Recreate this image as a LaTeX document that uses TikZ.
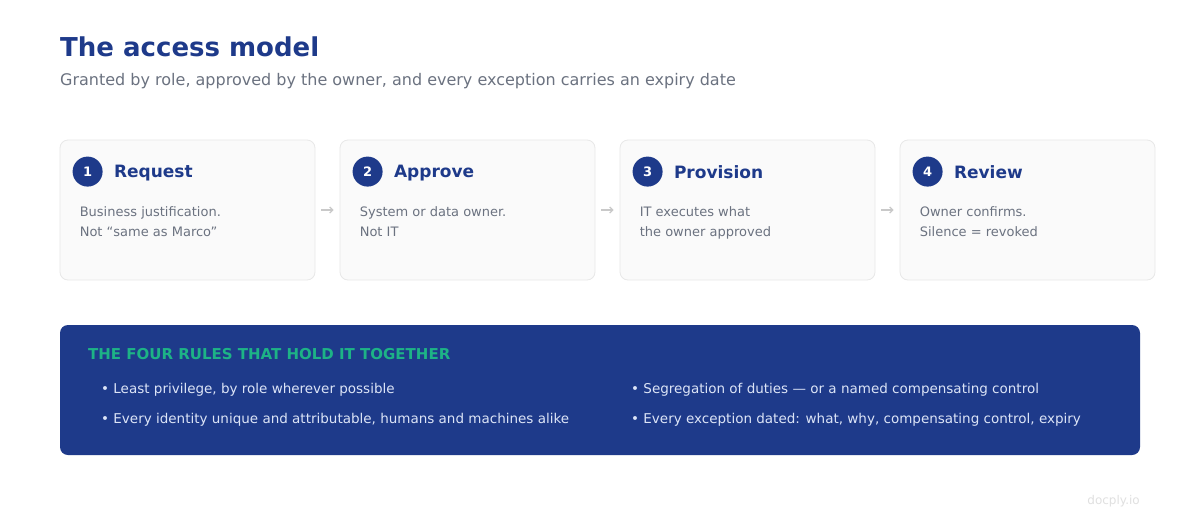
\documentclass[tikz,border=0pt]{standalone}
\usepackage{fontspec}
\setmainfont{DejaVu Sans}
\usetikzlibrary{positioning, arrows.meta}

\definecolor{navy}{HTML}{1E3A8A}
\definecolor{slate}{HTML}{6B7280}
\definecolor{cardfill}{HTML}{FAFAFA}
\definecolor{cardline}{HTML}{E8E8E8}
\definecolor{mint}{HTML}{1DB386}
\definecolor{paleblue}{HTML}{DCE4F7}

\begin{document}
\begin{tikzpicture}
[x=1pt, y=-1pt,
 >={Straight Barb[length=3pt]},
 card/.style={draw=cardline, fill=cardfill, rounded corners=8pt, line width=0.8pt,
   minimum width=255pt, minimum height=140pt, inner sep=0pt},
 num/.style={circle, fill=navy, text=white, minimum size=30pt, inner sep=0pt,
   font=\fontsize{13}{15}\selectfont\bfseries},
 steptitle/.style={text=navy, font=\fontsize{17}{20}\selectfont\bfseries, inner sep=0pt},
 body/.style={text=slate, font=\fontsize{13}{20}\selectfont, align=left, inner sep=0pt},
 flow/.style={->, draw=cardline!70!gray, line width=1.3pt, shorten <=6pt, shorten >=6pt},
 rule/.style={text=paleblue, font=\fontsize{13.5}{16}\selectfont, anchor=base west, inner sep=0pt}
]
\useasboundingbox[fill=white] (0,0) rectangle (1200,520);

% heading
\node[anchor=base west, inner sep=0pt, text=navy, font=\fontsize{26}{30}\selectfont\bfseries]
  (title) at (60,56) {The access model};
\node[anchor=base west, inner sep=0pt, text=slate, font=\fontsize{16}{19}\selectfont]
  (subtitle) at (60,85) {Granted by role, approved by the owner, and every exception carries an expiry date};

% the four steps
\node[card] (request) at (187.5,210) {};
\node[card] (approve) at (467.5,210) {};
\node[card] (provision) at (747.5,210) {};
\node[card] (review) at (1027.5,210) {};

\node[num] (n1) at ([xshift=28pt, yshift=-32pt]request.north west) {1};
\node[steptitle, right=11pt of n1, yshift=-1pt] {Request};
\node[body, anchor=north west] at ([xshift=20pt, yshift=-67pt]request.north west)
  {Business justification.\\Not “same as Marco”};

\node[num] (n2) at ([xshift=28pt, yshift=-32pt]approve.north west) {2};
\node[steptitle, right=11pt of n2, yshift=-1pt] {Approve};
\node[body, anchor=north west] at ([xshift=20pt, yshift=-67pt]approve.north west)
  {System or data owner.\\Not IT};

\node[num] (n3) at ([xshift=28pt, yshift=-32pt]provision.north west) {3};
\node[steptitle, right=11pt of n3, yshift=-1pt] {Provision};
\node[body, anchor=north west] at ([xshift=20pt, yshift=-67pt]provision.north west)
  {IT executes what\\the owner approved};

\node[num] (n4) at ([xshift=28pt, yshift=-32pt]review.north west) {4};
\node[steptitle, right=11pt of n4, yshift=-1pt] {Review};
\node[body, anchor=north west] at ([xshift=20pt, yshift=-67pt]review.north west)
  {Owner confirms.\\Silence = revoked};

\draw[flow] (request) -- (approve);
\draw[flow] (approve) -- (provision);
\draw[flow] (provision) -- (review);

% the rules panel
\node[fill=navy, rounded corners=8pt, minimum width=1080pt, minimum height=130pt, inner sep=0pt]
  (rules) at (600,390) {};
\node[anchor=base west, inner sep=0pt, text=mint, font=\fontsize{15}{18}\selectfont\bfseries]
  (rulestitle) at (88,359) {THE FOUR RULES THAT HOLD IT TOGETHER};
\node[rule] (r1) at (101,393) {• Least privilege, by role wherever possible};
\node[rule] (r2) at (101,423) {• Every identity unique and attributable, humans and machines alike};
\node[rule] (r3) at (631,393) {• Segregation of duties — or a named compensating control};
\node[rule] (r4) at (631,423) {• Every exception dated: what, why, compensating control, expiry};

\node[anchor=base east, inner sep=0pt, text=black!12, font=\fontsize{12}{14}\selectfont]
  (mark) at (1140,504) {docply.io};
\end{tikzpicture}
\end{document}
